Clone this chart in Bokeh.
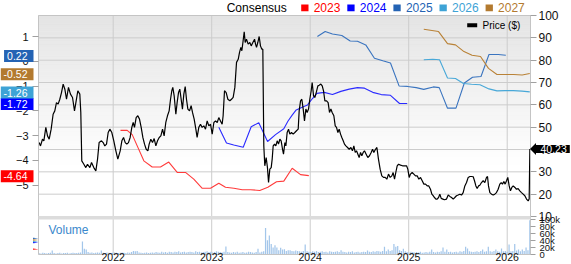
import numpy as np
from bokeh.plotting import figure
from bokeh.models import (Range1d, LinearAxis, FixedTicker, Label, PolyAnnotation, BoxAnnotation)
from bokeh.embed import file_html
from bokeh.resources import INLINE

FONT = "Liberation Sans"

# ---------------- data ----------------
price_x = [2021.248, 2021.262, 2021.282, 2021.296, 2021.316, 2021.333, 2021.350, 2021.370, 2021.390, 2021.407,
           2021.424, 2021.441, 2021.458, 2021.475, 2021.492, 2021.509, 2021.526, 2021.546, 2021.566, 2021.587,
           2021.607, 2021.621, 2021.641, 2021.661, 2021.671, 2021.681, 2021.702, 2021.722, 2021.739, 2021.763,
           2021.780, 2021.803, 2021.824, 2021.841, 2021.857, 2021.881, 2021.898, 2021.915, 2021.932, 2021.949,
           2021.966, 2021.986, 2022.006, 2022.027, 2022.047,
           2022.071, 2022.088, 2022.105, 2022.122, 2022.138, 2022.155, 2022.172, 2022.189, 2022.203, 2022.216,
           2022.233, 2022.250, 2022.267, 2022.284, 2022.301, 2022.318, 2022.335, 2022.352, 2022.365, 2022.382,
           2022.399, 2022.416, 2022.433, 2022.450, 2022.467, 2022.484, 2022.501, 2022.517, 2022.534, 2022.551,
           2022.568, 2022.582, 2022.595, 2022.605, 2022.619, 2022.636, 2022.649, 2022.663, 2022.676, 2022.690,
           2022.703, 2022.717, 2022.731, 2022.744, 2022.758, 2022.775, 2022.791, 2022.805, 2022.822, 2022.839,
           2022.852, 2022.869,
           2022.886, 2022.903, 2022.920, 2022.937, 2022.954, 2022.971, 2022.988, 2023.005, 2023.022, 2023.039,
           2023.056, 2023.072, 2023.089, 2023.106, 2023.116, 2023.130, 2023.147, 2023.164, 2023.184, 2023.201,
           2023.218, 2023.235, 2023.252, 2023.269, 2023.282, 2023.296, 2023.306, 2023.319, 2023.330, 2023.340,
           2023.353, 2023.370, 2023.387, 2023.401, 2023.418, 2023.435, 2023.445, 2023.455, 2023.468, 2023.482,
           2023.495, 2023.509, 2023.519, 2023.529, 2023.539, 2023.553, 2023.566, 2023.577, 2023.590, 2023.604,
           2023.614, 2023.624, 2023.638, 2023.651, 2023.665, 2023.678, 2023.692, 2023.705,
           2023.719, 2023.729, 2023.743, 2023.753, 2023.766, 2023.780, 2023.793, 2023.810, 2023.827, 2023.844,
           2023.861, 2023.878, 2023.888, 2023.902, 2023.915, 2023.929, 2023.942, 2023.956, 2023.969, 2023.983,
           2023.996, 2024.010, 2024.020, 2024.034, 2024.047, 2024.061, 2024.078, 2024.091, 2024.108, 2024.122,
           2024.135, 2024.149, 2024.166, 2024.182, 2024.196, 2024.210, 2024.223, 2024.240, 2024.254, 2024.267,
           2024.281, 2024.294, 2024.308, 2024.321, 2024.335, 2024.348, 2024.362, 2024.379, 2024.396, 2024.413,
           2024.429, 2024.443, 2024.457, 2024.470, 2024.484, 2024.497, 2024.511, 2024.524, 2024.538,
           2024.551, 2024.568, 2024.585, 2024.602, 2024.619, 2024.633, 2024.646, 2024.663, 2024.677, 2024.693,
           2024.710, 2024.727, 2024.744, 2024.761, 2024.778, 2024.795, 2024.812, 2024.829, 2024.842, 2024.856,
           2024.869, 2024.883, 2024.897, 2024.917, 2024.937, 2024.957, 2024.978, 2024.991, 2025.005, 2025.018,
           2025.035, 2025.052, 2025.069, 2025.086, 2025.103, 2025.120, 2025.137, 2025.154, 2025.171, 2025.188,
           2025.204, 2025.221, 2025.235, 2025.248, 2025.262, 2025.276, 2025.289, 2025.303, 2025.316, 2025.330,
           2025.347, 2025.363,
           2025.384, 2025.401, 2025.418, 2025.435, 2025.452, 2025.468, 2025.485, 2025.502, 2025.519, 2025.536,
           2025.553, 2025.570, 2025.587, 2025.604, 2025.621, 2025.638, 2025.655, 2025.668, 2025.682, 2025.695,
           2025.709, 2025.722, 2025.739, 2025.756, 2025.773, 2025.790, 2025.800, 2025.810, 2025.824, 2025.841,
           2025.858, 2025.874, 2025.891, 2025.908, 2025.925, 2025.939, 2025.952, 2025.966, 2025.979, 2025.993,
           2026.006, 2026.020, 2026.033, 2026.047, 2026.061, 2026.078, 2026.094, 2026.111, 2026.128, 2026.145,
           2026.162, 2026.179, 2026.196, 2026.213, 2026.223, 2026.230]
price_y = [43.1, 41.6, 44.6, 43.9, 49.9, 46.1, 44.6, 49.1, 55.8, 57.3,
           61.0, 60.3, 62.5, 65.5, 69.3, 67.0, 62.5, 67.8, 64.8, 63.3,
           57.3, 61.0, 66.3, 64.8, 56.6, 34.9, 33.4, 31.9, 33.4, 31.9,
           34.2, 31.9, 30.4, 35.7, 43.1, 43.9, 43.1, 41.6, 42.4, 47.6,
           49.1, 47.6, 43.9, 39.4, 35.7,
           39.4, 43.9, 45.4, 43.1, 42.4, 43.1, 45.4, 49.9, 52.1, 49.9,
           54.3, 55.1, 53.6, 49.9, 45.4, 42.4, 40.1, 39.4, 42.4, 44.6,
           43.1, 44.9, 41.6, 43.9, 45.4, 46.1, 49.1, 46.1, 52.1, 55.1,
           57.3, 62.5, 66.3, 67.8, 64.0, 55.8, 61.0, 65.5, 67.0, 62.5,
           58.1, 64.8, 68.2, 62.5, 58.1, 57.3, 59.6, 56.6, 53.6, 49.1,
           45.4, 49.9,
           51.3, 49.9, 50.6, 49.1, 52.8, 50.6, 51.3, 46.9, 52.1, 52.8,
           52.1, 54.3, 52.8, 51.3, 55.1, 66.3, 65.5, 62.5, 61.8, 62.5,
           63.3, 67.8, 79.0, 80.4, 83.4, 85.7, 84.2, 88.7, 92.7, 87.9,
           89.4, 87.2, 87.9, 86.4, 87.9, 89.4, 87.2, 85.7, 87.9, 90.6,
           86.4, 84.9, 84.9, 41.6, 32.7, 36.4, 31.9, 25.2, 31.2, 31.9,
           35.7, 41.6, 42.4, 41.6, 43.9, 42.4, 44.6, 43.9,
           40.1, 37.9, 43.1, 41.6, 47.6, 49.1, 46.9, 47.6, 46.9, 47.6,
           48.4, 49.1, 57.3, 61.8, 62.5, 58.1, 52.8, 58.1, 56.6, 58.1,
           62.5, 66.3, 70.0, 64.0, 63.3, 65.5, 68.5, 68.8, 69.3, 68.5,
           66.3, 61.8, 61.8, 61.0, 56.6, 58.1, 56.6, 55.1, 50.6, 49.9,
           47.6, 49.1, 46.9, 45.4, 43.9, 42.4, 41.6, 40.9, 40.1, 40.9,
           39.4, 41.6, 38.7, 39.4, 37.9, 36.4, 38.7, 37.2, 38.7,
           39.4, 37.9, 36.4, 37.2, 38.7, 40.1, 38.7, 40.1, 40.9, 35.7,
           31.2, 28.2, 27.5, 27.5, 26.7, 29.0, 27.5, 28.2, 29.7, 26.7,
           29.7, 32.7, 33.4, 33.0, 32.7, 32.7, 32.7, 31.2, 27.5, 29.0,
           29.7, 29.0, 28.2, 28.2, 26.7, 27.5, 26.0, 24.5, 24.5, 23.7,
           23.7, 22.2, 20.0, 19.3, 18.5, 17.8, 17.8, 18.5, 20.0, 18.1,
           17.8, 17.5,
           17.8, 19.6, 19.0, 18.5, 17.8, 18.5, 19.3, 19.6, 20.0, 19.6,
           20.7, 23.7, 25.2, 27.5, 27.9, 27.9, 27.8, 26.0, 23.7, 22.5,
           23.7, 24.0, 25.2, 26.0, 25.2, 27.5, 27.9, 23.7, 20.7, 20.0,
           19.6, 20.0, 20.7, 22.2, 24.5, 25.2, 24.5, 25.7, 24.5, 26.0,
           27.5, 23.7, 21.5, 23.0, 23.7, 23.0, 22.2, 22.5, 21.5, 20.7,
           20.0, 19.3, 17.8, 17.0, 17.8, 40.23]

# consensus EPS estimates (left axis)
eps2023_x = [2022.074, 2022.142, 2022.193, 2022.311, 2022.396, 2022.480, 2022.564, 2022.650, 2022.734, 2022.818,
             2022.904, 2022.988, 2023.072, 2023.140, 2023.225, 2023.310, 2023.394, 2023.488, 2023.570, 2023.658,
             2023.732, 2023.817, 2023.902, 2023.986]
eps2023_y = [-2.79, -2.79, -2.96, -4.02, -4.27, -4.27, -4.07, -4.49, -4.49, -4.76,
             -5.13, -5.13, -4.93, -5.09, -5.13, -5.19, -5.19, -5.22, -5.09, -4.87,
             -4.84, -4.32, -4.58, -4.62]
eps2024_x = [2023.072, 2023.150, 2023.224, 2023.320, 2023.401, 2023.478, 2023.567, 2023.648, 2023.732, 2023.775,
             2023.817, 2023.858, 2023.930, 2023.973, 2024.023, 2024.068, 2024.142, 2024.226, 2024.311, 2024.396,
             2024.480, 2024.551, 2024.635, 2024.721, 2024.815, 2024.907, 2024.985]
eps2024_y = [-2.66, -3.30, -3.38, -3.47, -2.64, -2.48, -3.24, -2.96, -2.72, -2.41,
             -2.17, -1.96, -1.83, -1.76, -1.50, -1.29, -1.25, -1.34, -1.21, -1.12,
             -1.06, -1.08, -1.25, -1.34, -1.37, -1.70, -1.70]
eps2025_x = [2024.073, 2024.152, 2024.226, 2024.321, 2024.406, 2024.480, 2024.564, 2024.652, 2024.737, 2024.815,
             2024.902, 2024.988, 2025.076, 2025.153, 2025.250, 2025.310, 2025.394, 2025.480, 2025.565, 2025.648,
             2025.734, 2025.815, 2025.909, 2025.986]
eps2025_y = [1.01, 1.21, 1.11, 1.05, 0.83, 0.82, 0.67, 0.13, 0.03, -0.06,
             -0.99, -1.01, -1.06, -1.13, -1.03, -1.06, -1.89, -1.89, -0.87, -0.64,
             -0.61, 0.28, 0.28, 0.25]
eps2026_x = [2025.153, 2025.245, 2025.313, 2025.394, 2025.475, 2025.556, 2025.638, 2025.724, 2025.815, 2025.896,
             2025.978, 2026.064, 2026.150, 2026.229]
eps2026_y = [0.07, 0.09, 0.07, -0.67, -0.69, -0.89, -0.92, -0.94, -1.11, -1.19,
             -1.18, -1.18, -1.20, -1.23]
eps2027_x = [2025.153, 2025.303, 2025.394, 2025.475, 2025.561, 2025.643, 2025.729, 2025.810, 2025.896, 2025.983,
             2026.067, 2026.152, 2026.229]
eps2027_y = [1.30, 1.21, 0.72, 0.67, 0.40, 0.25, 0.20, -0.28, -0.53, -0.53,
             -0.53, -0.55, -0.49]

series_names = ["2023", "2024", "2025", "2026", "2027"]
series_x = [eps2023_x, eps2024_x, eps2025_x, eps2026_x, eps2027_x]
series_y = [eps2023_y, eps2024_y, eps2025_y, eps2026_y, eps2027_y]
series_colors = ["#ff0000", "#0000ff", "#2463b4", "#3ea3d6", "#b37a2f"]
line_colors = ["#ff3b3b", "#2b2bff", "#3a74bf", "#48a8d8", "#b98237"]
latest_eps = [-4.64, -1.72, 0.22, -1.26, -0.52]
latest_eps_text = ["-4.64", "-1.72", "0.22", "-1.26", "-0.52"]
latest_price = 40.23
latest_price_text = "40.23"

# weekly volume, thousands of shares
volume_start = 2021.247
volume_k = [4, 3, 5, 4, 3, 4, 5, 11, 4, 3, 4, 5, 3, 4, 4, 5, 3, 4, 5, 4,
            4, 5, 6, 37, 16, 14, 7, 5, 6, 4, 5, 6, 5, 11, 5, 4, 6, 5, 4, 5,
            6, 5, 4, 5, 6, 5, 4, 6, 5, 7, 10, 9, 10, 6, 5, 4, 5, 6, 4, 5,
            6, 5, 7, 6, 5, 8, 6, 7, 5, 8, 7, 6, 8, 7, 9, 6, 7, 8, 6, 7,
            8, 7, 6, 9, 7, 8, 6, 7, 8, 9, 7, 8, 6, 7, 9, 8, 7, 6, 8, 23,
            7, 6, 5, 7, 6, 8, 5, 6, 7, 5, 6, 8, 7, 6, 5, 7, 16, 6, 8, 9,
            75, 40, 54, 30, 20, 26, 20, 12, 19, 14, 15, 10, 12, 12, 10, 9, 11, 10, 9, 8,
            10, 28, 9, 8, 7, 9, 8, 10, 7, 8, 9, 7, 8, 6, 9, 8, 7, 8, 9, 7,
            12, 8, 7, 6, 8, 7, 9, 6, 7, 8, 6, 7, 8, 7, 11, 8, 7, 9, 8, 10,
            9, 8, 10, 22, 9, 14, 10, 12, 30, 22, 24, 12, 10, 16, 9, 7, 6, 8, 7, 6,
            7, 6, 8, 5, 6, 7, 6, 8, 14, 7, 6, 8, 7, 9, 20, 8, 14, 7, 8, 6,
            7, 8, 6, 9, 8, 10, 22, 17, 9, 8, 7, 8, 9, 7, 10, 14, 8, 9, 22, 9,
            8, 10, 14, 9, 8, 17, 9, 10, 8, 28, 9, 10, 30, 11, 14, 9, 14, 10, 20, 12,
            97]

year_ticks = [2022, 2023, 2024, 2025, 2026]
price_ticks = [10, 20, 30, 40, 50, 60, 70, 80, 90, 100]
eps_ticks = [1, 0, -1, -2, -3, -4, -5]
vol_ticks = [0, 20000, 40000, 60000, 80000, 100000]
vol_tick_labels = ["0", "20k", "40k", "60k", "80k", "100k"]

# ---------------- geometry (one frame covering the whole canvas) ----------------
W, H = 571, 264
X0, X1 = 2021.2416, 2026.2365          # data area (time)
PX_PER_YEAR = 492 / (X1 - X0)
P0, P1 = 10, 100                        # price area (201 px tall, top 15 px from edge)
PPX = 201 / (P1 - P0)
E0, E1 = -5.803, 1.892                  # eps area
EPX = 201 / (E1 - E0)
V1 = 107600                             # volume top (38 px tall, 10 px above bottom edge)
VPX = 38 / V1
GRID = "#cccccc"
FRAME = "#c4c4c4"

x_range = Range1d(X0 - 38 / PX_PER_YEAR, X1 + 41 / PX_PER_YEAR)
y_range = Range1d(P0 - 48 / PPX, P1 + 15 / PPX)

p = figure(width=W, height=H, x_range=x_range, y_range=y_range,
           output_backend="svg", toolbar_location=None,
           x_axis_location=None, y_axis_location=None, min_border=0)
p.min_border_left = p.min_border_right = p.min_border_top = p.min_border_bottom = 0
p.outline_line_color = None
p.background_fill_color = "white"
p.border_fill_color = "white"
p.xgrid.visible = False
p.ygrid.visible = False
p.extra_y_ranges = {"eps": Range1d(E0 - 63 / EPX, E1 + 15 / EPX),
                    "vol": Range1d(-10 / VPX, V1 + 216 / VPX)}

# gradient background of the price panel
n = 50
edges = np.linspace(P0, P1, n + 1)
cols = []
for k in range(n):
    t = (k + 0.5) / n
    g = int(round(255 - 27 * max(0.0, (t - 0.25) / 0.75)))
    cols.append("#%02x%02x%02x" % (g, g, g))
p.quad(left=X0, right=X1, bottom=edges[:-1], top=edges[1:], fill_color=cols, line_color=cols,
       line_width=0.6, level="image")

# grid lines from the tick lists
p.segment(x0=X0, x1=X1, y0=price_ticks, y1=price_ticks, line_color=GRID, line_width=1, level="underlay")
p.segment(x0=year_ticks, x1=year_ticks, y0=P0, y1=P1, line_color=GRID, line_width=1, level="underlay")
p.segment(x0=year_ticks, x1=year_ticks, y0=0, y1=V1, y_range_name="vol",
          line_color=GRID, line_width=1, level="underlay")

# axes (fixed at the data-area edges)
price_axis = LinearAxis(fixed_location=X1, ticker=FixedTicker(ticks=price_ticks))
p.add_layout(price_axis, "right")
eps_axis = LinearAxis(y_range_name="eps", fixed_location=X0, ticker=FixedTicker(ticks=eps_ticks))
p.add_layout(eps_axis, "left")
vol_axis = LinearAxis(y_range_name="vol", fixed_location=X1, ticker=FixedTicker(ticks=vol_ticks))
vol_axis.major_label_overrides = {t: s for t, s in zip(vol_ticks, vol_tick_labels)}
p.add_layout(vol_axis, "right")
year_axis = LinearAxis(y_range_name="vol", fixed_location=0, ticker=FixedTicker(ticks=year_ticks))
p.add_layout(year_axis, "below")

for ax, size, standoff, tick in ((price_axis, "12px", 2, 6), (eps_axis, "11px", 4, 6),
                                 (vol_axis, "9.5px", 4, 5), (year_axis, "10.5px", -2, 0)):
    ax.axis_line_color = None
    ax.major_tick_line_color = "#a0a0a0" if tick else None
    ax.major_tick_in = 0
    ax.major_tick_out = tick
    ax.minor_tick_line_color = None
    ax.major_label_text_font = FONT
    ax.major_label_text_font_size = size
    ax.major_label_text_color = "#111111"
    ax.major_label_standoff = standoff

# data
for xs, ys, col in zip(series_x, series_y, line_colors):
    p.line(xs, ys, y_range_name="eps", line_color=col, line_width=1.1)
p.line(price_x, price_y, line_color="black", line_width=1.2)

vol_x = [volume_start + i / 52.18 for i in range(len(volume_k))]
vol_v = [v * 1000 for v in volume_k]
p.vbar(x=vol_x, top=vol_v, bottom=0, width=0.0125, y_range_name="vol",
       fill_color="#a3c6ea", line_color=None)

# panel frames and the separator band
p.quad(left=X0, right=X1, bottom=P0, top=P1, fill_color=None, line_color=FRAME, line_width=1)
p.quad(left=X0, right=X1, bottom=0, top=V1, y_range_name="vol", fill_color=None, line_color=FRAME, line_width=1)
p.add_layout(BoxAnnotation(left=38, right=530, bottom=45, top=48.5, left_units="screen", right_units="screen",
                           bottom_units="screen", top_units="screen",
                           fill_color="#dcdcdc", fill_alpha=1, line_color=None))

# latest-estimate tags on the left (box right edge at x)
for val, txt, col in zip(latest_eps, latest_eps_text, series_colors):
    p.add_layout(Label(x=33, y=val, x_units="screen", y_units="data", y_range_name="eps",
                       text=txt, text_align="right", text_baseline="middle",
                       text_color="white", text_font=FONT, text_font_size="10.5px",
                       background_fill_color=col,
                       padding=dict(left=3, right=6, top=2, bottom=2)))
    p.add_layout(PolyAnnotation(xs=[32.5, 38, 32.5], ys=[val + 7.7 / EPX, val, val - 7.7 / EPX],
                                xs_units="screen", ys_units="data", y_range_name="eps",
                                fill_color=col, fill_alpha=1, line_color=None))

# latest price tag on the right (box left edge at x)
p.add_layout(Label(x=535, y=latest_price, x_units="screen", y_units="data",
                   text=latest_price_text, text_align="left", text_baseline="middle",
                   text_color="white", text_font=FONT, text_font_size="10.5px",
                   background_fill_color="black",
                   padding=dict(left=5, right=3, top=0, bottom=0)))
p.add_layout(PolyAnnotation(xs=[535.5, 529.5, 535.5],
                            ys=[latest_price + 6 / PPX, latest_price, latest_price - 6 / PPX],
                            xs_units="screen", ys_units="data",
                            fill_color="black", fill_alpha=1, line_color=None))

# top legend
LEG_Y = 256.6
p.add_layout(Label(x=226.2, y=LEG_Y, x_units="screen", y_units="screen", text="Consensus",
                   text_align="left", text_baseline="middle", text_font=FONT,
                   text_font_size="12px", text_color="black"))
for k, (name, col) in enumerate(zip(series_names, series_colors)):
    sx0 = 300.7 + 46.1 * k
    p.add_layout(PolyAnnotation(xs=[sx0, sx0 + 7.3, sx0 + 7.3, sx0],
                                ys=[LEG_Y - 3.4, LEG_Y - 3.4, LEG_Y + 3.4, LEG_Y + 3.4],
                                xs_units="screen", ys_units="screen",
                                fill_color=col, fill_alpha=1, line_color=None))
    p.add_layout(Label(x=sx0 + 12.5, y=LEG_Y, x_units="screen", y_units="screen", text=name,
                       text_align="left", text_baseline="middle", text_font=FONT,
                       text_font_size="12px", text_color=col))

# price legend
p.add_layout(PolyAnnotation(xs=[466.7, 476.7, 476.7, 466.7], ys=[237.3, 237.3, 241.3, 241.3],
                            xs_units="screen", ys_units="screen",
                            fill_color="black", fill_alpha=1, line_color=None))
p.add_layout(Label(x=482, y=239, x_units="screen", y_units="screen", text="Price ($)",
                   text_align="left", text_baseline="middle", text_font=FONT,
                   text_font_size="10px", text_color="black"))

# volume caption
p.add_layout(Label(x=48, y=34.7, x_units="screen", y_units="screen", text="Volume",
                   text_align="left", text_baseline="middle", text_font=FONT,
                   text_font_size="12px", text_color="#3a88cc"))

open("out.html", "w").write(file_html(p, INLINE))
